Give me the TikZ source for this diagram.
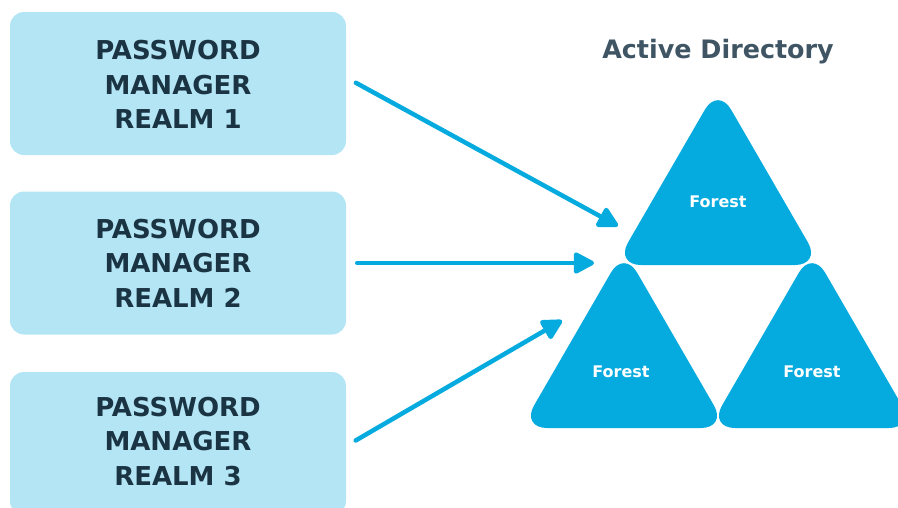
\documentclass[tikz,border=0pt]{standalone}
\usepackage{fontspec}
\setmainfont{DejaVu Sans}
\usetikzlibrary{arrows.meta, positioning}
\definecolor{realmfill}{HTML}{B4E5F5}
\definecolor{forestblue}{HTML}{05ABDE}
\definecolor{realmtext}{HTML}{1B3443}
\definecolor{titletext}{HTML}{3F5564}

\begin{document}
\begin{tikzpicture}
        [
            x=1pt, y=-1pt,
            realm/.style={rectangle, fill=realmfill, rounded corners=14pt, minimum width=336pt, minimum height=143pt},
            realmlabel/.style={align=center, text=realmtext, font=\fontsize{26}{34.5}\selectfont\bfseries},
            tree/.style={fill=forestblue, rounded corners=26pt},
            treelabel/.style={text=white, font=\fontsize{16}{19}\selectfont\bfseries},
            link/.style={draw=forestblue, line width=4.5pt, line cap=round, shorten <=11pt, -{Triangle[length=23pt,width=23pt,round]}},
        ]
        \useasboundingbox (0,0) rectangle (898,507);
        \clip (0,0) rectangle (898,507);
        % realms on the left
        \foreach \n/\y/\t in {1/83.5/84.5, 2/263/263, 3/443.5/441.5}
            {
            \node[realm] (realm\n) at (178,\y) {};
            \node[realmlabel] (label\n) at (178,\t) {PASSWORD\\MANAGER\\REALM \n};
            }
        \node[text=titletext, font=\fontsize{25.4}{30}\selectfont\bfseries] (title) at (718,51.5) {Active Directory};
        % forests
        \foreach \x/\y in {718/265, 624/428, 812/428}
            \fill[tree] (\x,\y-178) -- (\x+103,\y) -- (\x-103,\y) -- cycle;
        \node[treelabel] (forest1) at (718,202) {Forest};
        \node[treelabel] (forest2) at (621,371.5) {Forest};
        \node[treelabel] (forest3) at (812,371.5) {Forest};
        % arrow ends stop short of the forests
        \coordinate (end1) at (618,226);
        \coordinate (end2) at (594,263);
        \coordinate (end3) at (562,320.5);
        \draw[link] ([yshift=6pt]realm1.east) -- (end1);
        \draw[link] (realm2.east) -- (end2);
        \draw[link] ([yshift=-2.5pt]realm3.east) -- (end3);
      \end{tikzpicture}
\end{document}
